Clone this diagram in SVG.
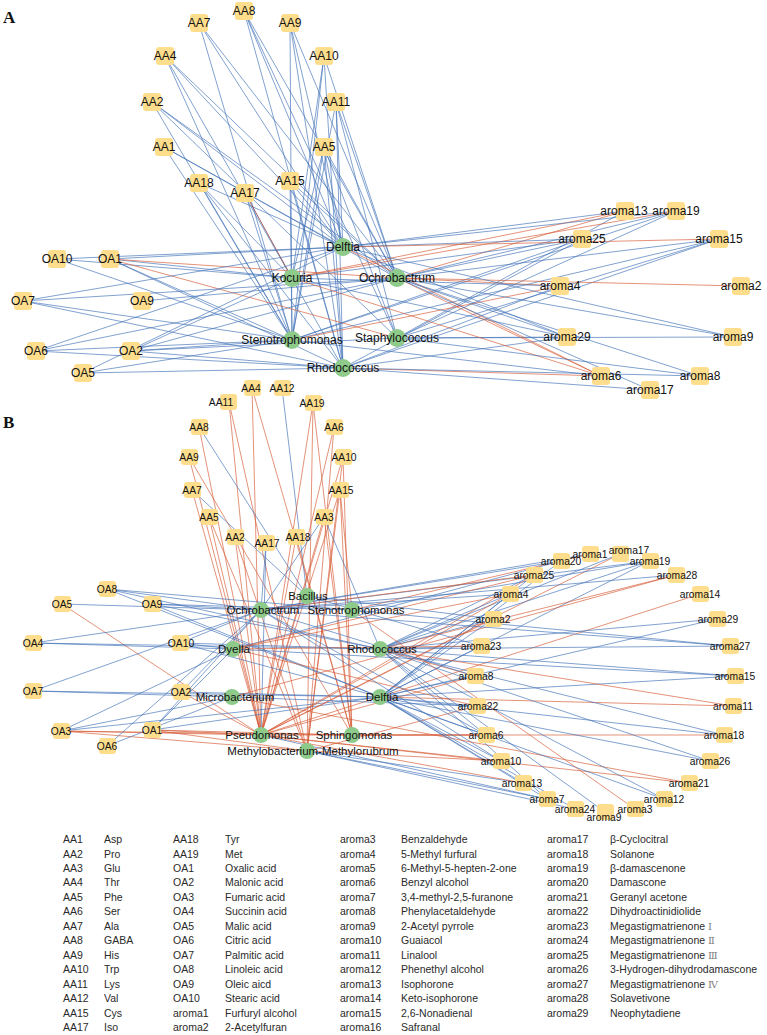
<svg xmlns="http://www.w3.org/2000/svg" width="767" height="1035" viewBox="0 0 767 1035">
<style>
.b{stroke:#4272b8;stroke-width:0.75;fill:none;opacity:.88}
.r{stroke:#d65a33;stroke-width:0.75;fill:none;opacity:.88}
.dr{stroke:#8a3b3b;stroke-width:0.8;fill:none}
.bx{fill:#fede8c}
.mc{fill:#8ecb8a}
text{font-family:"Liberation Sans",Arial,sans-serif;fill:#111;text-anchor:middle}
.ta{font-size:12px}
.tb{font-size:10.3px}
.tm{font-size:11.5px}
.pl{font-family:"Liberation Serif","Times New Roman",serif;font-weight:bold;font-size:17px;text-anchor:start}
.lg text{font-size:10.5px;fill:#2a2a2a;text-anchor:start}
.rn{font-family:"DejaVu Serif","Noto Sans CJK SC",serif;fill:#808080;font-size:10px}
</style>
<rect width="767" height="1035" fill="#fff"/>
<text class="pl" x="3" y="23">A</text>
<text class="pl" x="3" y="428">B</text>

<g id="connectors">
<g id="edges-A">
<path class="b" d="M199 23L292 340"/><path class="b" d="M199 23L343 247"/><path class="b" d="M199 23L397 278"/>
<path class="b" d="M244 11L343 247"/><path class="b" d="M244 11L397 278"/><path class="b" d="M244 11L343 368"/><path class="b" d="M244 11L397 338"/>
<path class="b" d="M290 23L292 340"/><path class="b" d="M290 23L397 278"/><path class="b" d="M290 23L343 247"/><path class="b" d="M290 23L343 368"/>
<path class="b" d="M165 56L397 278"/><path class="b" d="M165 56L343 247"/><path class="b" d="M165 56L292 340"/><path class="b" d="M165 56L343 368"/>
<path class="b" d="M324 56L292 278"/><path class="b" d="M324 56L292 340"/><path class="b" d="M324 56L397 278"/><path class="b" d="M324 56L343 368"/>
<path class="b" d="M152 102L397 278"/><path class="b" d="M152 102L343 247"/><path class="b" d="M152 102L292 340"/><path class="b" d="M152 102L397 338"/>
<path class="b" d="M336 102L397 278"/><path class="b" d="M336 102L343 247"/><path class="b" d="M336 102L397 338"/><path class="b" d="M336 102L343 368"/><path class="b" d="M336 102L292 340"/>
<path class="b" d="M164 147L343 247"/><path class="b" d="M164 147L292 340"/><path class="b" d="M164 147L397 278"/>
<path class="b" d="M324 147L292 278"/><path class="b" d="M324 147L292 340"/><path class="b" d="M324 147L343 368"/><path class="b" d="M324 147L343 247"/><path class="b" d="M324 147L397 278"/><path class="b" d="M324 147L397 338"/>
<path class="b" d="M199 183L292 340"/><path class="b" d="M199 183L343 368"/><path class="b" d="M199 183L292 278"/><path class="b" d="M199 183L343 247"/>
<path class="b" d="M290 181L292 340"/><path class="b" d="M290 181L343 247"/><path class="b" d="M290 181L397 278"/><path class="b" d="M290 181L343 368"/>
<path class="b" d="M245 193L292 340"/><path class="dr" d="M245 193L292 278"/>
<path class="b" d="M57 259L343 247"/><path class="b" d="M57 259L292 278"/><path class="b" d="M57 259L292 340"/>
<path class="b" d="M110 259L343 247"/><path class="b" d="M110 259L292 278"/><path class="b" d="M110 259L292 340"/><path class="b" d="M110 259L343 368"/>
<path class="r" d="M110 259L397 278"/><path class="r" d="M110 259L397 338"/>
<path class="b" d="M23 301L343 247"/><path class="b" d="M23 301L397 278"/><path class="b" d="M23 301L292 340"/><path class="b" d="M23 301L343 368"/>
<path class="b" d="M142 301L397 278"/>
<path class="b" d="M36 351L343 247"/><path class="b" d="M36 351L292 340"/><path class="b" d="M36 351L343 368"/><path class="b" d="M36 351L397 278"/>
<path class="b" d="M131 351L397 278"/><path class="b" d="M131 351L292 278"/><path class="b" d="M131 351L292 340"/><path class="b" d="M131 351L343 368"/><path class="b" d="M131 351L397 338"/>
<path class="b" d="M83 373L343 247"/><path class="b" d="M83 373L292 340"/><path class="b" d="M83 373L343 368"/>
<path class="r" d="M625 211L292 278"/><path class="r" d="M625 211L397 278"/><path class="b" d="M625 211L343 247"/><path class="b" d="M625 211L397 338"/>
<path class="b" d="M676 211L343 247"/><path class="b" d="M676 211L397 278"/><path class="b" d="M676 211L292 340"/><path class="b" d="M676 211L397 338"/><path class="r" d="M676 211L292 278"/>
<path class="b" d="M582 239L343 247"/><path class="b" d="M582 239L292 278"/><path class="b" d="M582 239L397 278"/><path class="b" d="M582 239L292 340"/><path class="b" d="M582 239L343 368"/>
<path class="r" d="M719 239L343 247"/><path class="b" d="M719 239L397 278"/><path class="b" d="M719 239L397 338"/><path class="b" d="M719 239L343 368"/><path class="b" d="M719 239L292 340"/>
<path class="r" d="M560 286L397 278"/><path class="r" d="M560 286L292 340"/><path class="b" d="M560 286L343 368"/><path class="b" d="M560 286L292 278"/>
<path class="r" d="M741 286L397 278"/>
<path class="b" d="M567 337L397 338"/><path class="b" d="M567 337L343 247"/><path class="b" d="M567 337L397 278"/><path class="b" d="M567 337L292 278"/><path class="b" d="M567 337L343 368"/>
<path class="b" d="M733 337L343 247"/><path class="b" d="M733 337L397 278"/><path class="b" d="M733 337L397 338"/>
<path class="r" d="M601 376L397 278"/><path class="r" d="M601 376L343 247"/><path class="r" d="M601 376L292 278"/><path class="r" d="M601 376L343 368"/><path class="b" d="M601 376L292 340"/>
<path class="b" d="M700 376L397 278"/><path class="b" d="M700 376L343 368"/><path class="b" d="M700 376L397 338"/>
<path class="b" d="M650 390L397 278"/><path class="b" d="M650 390L343 368"/>
</g>
<g id="edges-B">
<path class="r" d="M252 388L261 735"/><path class="r" d="M252 388L352 735"/>
<path class="b" d="M282 388L307 596"/>
<path class="r" d="M229 402L261 735"/><path class="r" d="M229 402L307 751"/>
<path class="r" d="M313 403L261 735"/><path class="r" d="M313 403L307 751"/><path class="r" d="M313 403L352 735"/>
<path class="r" d="M199 427L261 735"/><path class="b" d="M199 427L307 596"/>
<path class="r" d="M334 427L261 735"/><path class="r" d="M334 427L307 751"/>
<path class="r" d="M189 457L261 735"/><path class="r" d="M189 457L352 735"/>
<path class="r" d="M343 457L261 735"/><path class="r" d="M343 457L352 735"/><path class="r" d="M343 457L307 751"/>
<path class="b" d="M192 490L307 596"/><path class="r" d="M192 490L261 735"/>
<path class="r" d="M340 490L261 735"/><path class="r" d="M340 490L352 735"/><path class="r" d="M340 490L352 610"/><path class="r" d="M340 490L307 751"/>
<path class="r" d="M209 517L261 735"/><path class="r" d="M209 517L307 751"/>
<path class="b" d="M324 517L261 610"/><path class="b" d="M324 517L380 649"/><path class="r" d="M324 517L261 735"/><path class="r" d="M324 517L352 735"/>
<path class="r" d="M235 537L261 735"/><path class="r" d="M235 537L307 751"/>
<path class="r" d="M296 537L261 735"/><path class="r" d="M296 537L352 735"/>
<path class="b" d="M266 543L261 735"/><path class="b" d="M266 543L261 610"/>
<path class="b" d="M107 589L261 610"/><path class="b" d="M107 589L352 610"/><path class="b" d="M107 589L380 649"/><path class="b" d="M107 589L380 697"/>
<path class="b" d="M62 604L261 610"/><path class="r" d="M62 604L261 735"/>
<path class="b" d="M152 604L380 649"/><path class="b" d="M152 604L380 697"/><path class="b" d="M152 604L352 610"/><path class="b" d="M152 604L261 610"/>
<path class="b" d="M33 643L233 649"/><path class="b" d="M33 643L380 649"/><path class="b" d="M33 643L261 610"/>
<path class="b" d="M180 643L380 649"/><path class="b" d="M180 643L380 697"/><path class="b" d="M180 643L261 610"/><path class="b" d="M180 643L233 649"/>
<path class="b" d="M33 691L261 610"/><path class="b" d="M33 691L232 697"/><path class="b" d="M33 691L380 697"/>
<path class="b" d="M181 692L261 610"/><path class="b" d="M181 692L380 697"/><path class="r" d="M181 692L261 735"/>
<path class="b" d="M61 731L233 649"/><path class="b" d="M61 731L232 697"/><path class="b" d="M61 731L380 697"/><path class="r" d="M61 731L261 735"/><path class="r" d="M61 731L352 735"/><path class="r" d="M61 731L307 751"/>
<path class="b" d="M152 730L261 610"/><path class="b" d="M152 730L233 649"/><path class="b" d="M152 730L380 697"/><path class="r" d="M152 730L261 735"/><path class="r" d="M152 730L352 735"/><path class="r" d="M152 730L307 751"/>
<path class="b" d="M107 746L261 610"/><path class="b" d="M107 746L232 697"/>
<path class="b" d="M590 554L261 610"/><path class="r" d="M590 554L352 610"/>
<path class="r" d="M620 554L261 735"/><path class="b" d="M620 554L380 649"/>
<path class="b" d="M561 561L261 610"/><path class="b" d="M561 561L233 649"/><path class="b" d="M561 561L380 697"/>
<path class="b" d="M650 561L261 610"/><path class="b" d="M650 561L352 610"/><path class="b" d="M650 561L380 697"/><path class="b" d="M650 561L380 649"/>
<path class="r" d="M534 575L261 610"/><path class="r" d="M534 575L261 735"/><path class="r" d="M534 575L233 649"/><path class="b" d="M534 575L380 649"/><path class="b" d="M534 575L380 697"/>
<path class="r" d="M676 575L232 697"/><path class="b" d="M676 575L261 610"/><path class="r" d="M676 575L380 649"/>
<path class="r" d="M510 594L233 649"/><path class="b" d="M510 594L261 610"/><path class="b" d="M510 594L380 697"/><path class="b" d="M510 594L380 649"/><path class="r" d="M510 594L261 735"/>
<path class="r" d="M700 594L261 735"/>
<path class="b" d="M493 619L380 649"/><path class="b" d="M493 619L380 697"/><path class="b" d="M493 619L307 596"/><path class="r" d="M493 619L261 735"/>
<path class="b" d="M717 619L380 697"/><path class="b" d="M717 619L380 649"/>
<path class="b" d="M481 646L380 649"/><path class="r" d="M481 646L233 649"/><path class="b" d="M481 646L307 596"/><path class="b" d="M481 646L380 697"/>
<path class="b" d="M730 646L352 610"/><path class="b" d="M730 646L261 610"/><path class="b" d="M730 646L380 649"/>
<path class="r" d="M475 676L380 649"/><path class="b" d="M475 676L380 697"/><path class="b" d="M475 676L261 610"/><path class="r" d="M475 676L261 735"/>
<path class="b" d="M735 676L380 697"/><path class="b" d="M735 676L380 649"/><path class="b" d="M735 676L233 649"/>
<path class="b" d="M477 706L380 697"/><path class="b" d="M477 706L232 697"/><path class="r" d="M477 706L233 649"/><path class="r" d="M477 706L307 751"/>
<path class="r" d="M733 706L380 649"/><path class="r" d="M733 706L380 697"/>
<path class="b" d="M486 735L380 697"/><path class="b" d="M486 735L380 649"/><path class="r" d="M486 735L352 735"/><path class="r" d="M486 735L261 735"/><path class="b" d="M486 735L261 610"/>
<path class="r" d="M724 735L352 735"/><path class="b" d="M724 735L380 697"/><path class="b" d="M724 735L380 649"/>
<path class="b" d="M501 761L380 697"/><path class="r" d="M501 761L307 751"/><path class="r" d="M501 761L261 735"/><path class="b" d="M501 761L261 610"/>
<path class="b" d="M710 761L380 649"/><path class="b" d="M710 761L380 697"/>
<path class="b" d="M523 783L307 751"/><path class="r" d="M523 783L261 735"/><path class="b" d="M523 783L380 697"/>
<path class="r" d="M689 783L232 697"/><path class="r" d="M689 783L261 735"/>
<path class="b" d="M547 799L307 751"/><path class="b" d="M547 799L261 735"/><path class="b" d="M547 799L380 697"/><path class="b" d="M547 799L380 649"/>
<path class="b" d="M664 799L380 697"/><path class="b" d="M664 799L380 649"/>
<path class="b" d="M575 809L307 751"/><path class="b" d="M575 809L380 697"/>
<path class="r" d="M635 809L352 610"/>
<path class="b" d="M605 812L380 649"/>
</g>
</g>

<g id="nodes-A">
<g id="A-Delftia"><circle class="mc" cx="343" cy="247" r="9"/><text class="ta" x="343" y="251">Delftia</text></g>
<g id="A-Kocuria"><circle class="mc" cx="292" cy="278" r="9"/><text class="ta" x="292" y="282">Kocuria</text></g>
<g id="A-Ochrobactrum"><circle class="mc" cx="397" cy="278" r="9"/><text class="ta" x="397" y="282">Ochrobactrum</text></g>
<g id="A-Stenotrophomonas"><circle class="mc" cx="292" cy="340" r="9"/><text class="ta" x="292" y="344">Stenotrophomonas</text></g>
<g id="A-Staphylococcus"><circle class="mc" cx="397" cy="338" r="9"/><text class="ta" x="397" y="342">Staphylococcus</text></g>
<g id="A-Rhodococcus"><circle class="mc" cx="343" cy="368" r="9"/><text class="ta" x="343" y="372">Rhodococcus</text></g>
<g id="A-AA7"><rect class="bx" x="190" y="14" width="18" height="18" rx="3"/><text class="ta" x="199" y="27">AA7</text></g>
<g id="A-AA8"><rect class="bx" x="235" y="2" width="18" height="18" rx="3"/><text class="ta" x="244" y="15">AA8</text></g>
<g id="A-AA9"><rect class="bx" x="281" y="14" width="18" height="18" rx="3"/><text class="ta" x="290" y="27">AA9</text></g>
<g id="A-AA4"><rect class="bx" x="156" y="47" width="18" height="18" rx="3"/><text class="ta" x="165" y="60">AA4</text></g>
<g id="A-AA10"><rect class="bx" x="315" y="47" width="18" height="18" rx="3"/><text class="ta" x="324" y="60">AA10</text></g>
<g id="A-AA2"><rect class="bx" x="143" y="93" width="18" height="18" rx="3"/><text class="ta" x="152" y="106">AA2</text></g>
<g id="A-AA11"><rect class="bx" x="327" y="93" width="18" height="18" rx="3"/><text class="ta" x="336" y="106">AA11</text></g>
<g id="A-AA1"><rect class="bx" x="155" y="138" width="18" height="18" rx="3"/><text class="ta" x="164" y="151">AA1</text></g>
<g id="A-AA5"><rect class="bx" x="315" y="138" width="18" height="18" rx="3"/><text class="ta" x="324" y="151">AA5</text></g>
<g id="A-AA18"><rect class="bx" x="190" y="174" width="18" height="18" rx="3"/><text class="ta" x="199" y="187">AA18</text></g>
<g id="A-AA15"><rect class="bx" x="281" y="172" width="18" height="18" rx="3"/><text class="ta" x="290" y="185">AA15</text></g>
<g id="A-AA17"><rect class="bx" x="236" y="184" width="18" height="18" rx="3"/><text class="ta" x="245" y="197">AA17</text></g>
<g id="A-OA10"><rect class="bx" x="48" y="250" width="18" height="18" rx="3"/><text class="ta" x="57" y="263">OA10</text></g>
<g id="A-OA1"><rect class="bx" x="101" y="250" width="18" height="18" rx="3"/><text class="ta" x="110" y="263">OA1</text></g>
<g id="A-OA7"><rect class="bx" x="14" y="292" width="18" height="18" rx="3"/><text class="ta" x="23" y="305">OA7</text></g>
<g id="A-OA9"><rect class="bx" x="133" y="292" width="18" height="18" rx="3"/><text class="ta" x="142" y="305">OA9</text></g>
<g id="A-OA6"><rect class="bx" x="27" y="342" width="18" height="18" rx="3"/><text class="ta" x="36" y="355">OA6</text></g>
<g id="A-OA2"><rect class="bx" x="122" y="342" width="18" height="18" rx="3"/><text class="ta" x="131" y="355">OA2</text></g>
<g id="A-OA5"><rect class="bx" x="74" y="364" width="18" height="18" rx="3"/><text class="ta" x="83" y="377">OA5</text></g>
<g id="A-aroma13"><rect class="bx" x="616" y="202" width="18" height="18" rx="3"/><text class="ta" x="624" y="215">aroma13</text></g>
<g id="A-aroma19"><rect class="bx" x="667" y="202" width="18" height="18" rx="3"/><text class="ta" x="676" y="215">aroma19</text></g>
<g id="A-aroma25"><rect class="bx" x="573" y="230" width="18" height="18" rx="3"/><text class="ta" x="582" y="243">aroma25</text></g>
<g id="A-aroma15"><rect class="bx" x="710" y="230" width="18" height="18" rx="3"/><text class="ta" x="719" y="243">aroma15</text></g>
<g id="A-aroma4"><rect class="bx" x="551" y="277" width="18" height="18" rx="3"/><text class="ta" x="560" y="290">aroma4</text></g>
<g id="A-aroma2"><rect class="bx" x="732" y="277" width="18" height="18" rx="3"/><text class="ta" x="741" y="290">aroma2</text></g>
<g id="A-aroma29"><rect class="bx" x="558" y="328" width="18" height="18" rx="3"/><text class="ta" x="567" y="341">aroma29</text></g>
<g id="A-aroma9"><rect class="bx" x="724" y="328" width="18" height="18" rx="3"/><text class="ta" x="733" y="341">aroma9</text></g>
<g id="A-aroma6"><rect class="bx" x="592" y="367" width="18" height="18" rx="3"/><text class="ta" x="601" y="380">aroma6</text></g>
<g id="A-aroma8"><rect class="bx" x="691" y="367" width="18" height="18" rx="3"/><text class="ta" x="700" y="380">aroma8</text></g>
<g id="A-aroma17"><rect class="bx" x="641" y="381" width="18" height="18" rx="3"/><text class="ta" x="650" y="394">aroma17</text></g>
</g>

<g id="nodes-B">
<g id="B-Bacillus"><circle class="mc" cx="307" cy="596" r="8"/><text class="tm" x="308" y="600">Bacillus</text></g>
<g id="B-Ochrobactrum"><circle class="mc" cx="261" cy="610" r="8"/><text class="tm" x="263" y="614">Ochrobactrum</text></g>
<g id="B-Stenotrophomonas"><circle class="mc" cx="352" cy="610" r="8"/><text class="tm" x="356" y="614">Stenotrophomonas</text></g>
<g id="B-Dyella"><circle class="mc" cx="233" cy="649" r="8"/><text class="tm" x="234" y="653">Dyella</text></g>
<g id="B-Rhodococcus"><circle class="mc" cx="380" cy="649" r="8"/><text class="tm" x="382" y="653">Rhodococcus</text></g>
<g id="B-Microbacterium"><circle class="mc" cx="232" cy="697" r="8"/><text class="tm" x="235" y="701">Microbacterium</text></g>
<g id="B-Delftia"><circle class="mc" cx="380" cy="697" r="8"/><text class="tm" x="382" y="701">Delftia</text></g>
<g id="B-Pseudomonas"><circle class="mc" cx="261" cy="735" r="8"/><text class="tm" x="262" y="739">Pseudomonas</text></g>
<g id="B-Sphingomonas"><circle class="mc" cx="352" cy="735" r="8"/><text class="tm" x="354" y="739">Sphingomonas</text></g>
<g id="B-Methylobacterium"><circle class="mc" cx="307" cy="751" r="8"/><text class="tm" x="313" y="755">Methylobacterium-Methylorubrum</text></g>
<g id="B-AA4"><rect class="bx" x="244" y="380" width="17" height="16" rx="3"/><text class="tb" x="251" y="392">AA4</text></g>
<g id="B-AA12"><rect class="bx" x="274" y="380" width="17" height="16" rx="3"/><text class="tb" x="282" y="392">AA12</text></g>
<g id="B-AA11"><rect class="bx" x="220" y="394" width="17" height="16" rx="3"/><text class="tb" x="221" y="406">AA11</text></g>
<g id="B-AA19"><rect class="bx" x="305" y="395" width="17" height="16" rx="3"/><text class="tb" x="312" y="407">AA19</text></g>
<g id="B-AA8"><rect class="bx" x="191" y="419" width="17" height="16" rx="3"/><text class="tb" x="199" y="431">AA8</text></g>
<g id="B-AA6"><rect class="bx" x="326" y="419" width="17" height="16" rx="3"/><text class="tb" x="334" y="431">AA6</text></g>
<g id="B-AA9"><rect class="bx" x="181" y="449" width="17" height="16" rx="3"/><text class="tb" x="189" y="461">AA9</text></g>
<g id="B-AA10"><rect class="bx" x="335" y="449" width="17" height="16" rx="3"/><text class="tb" x="344" y="461">AA10</text></g>
<g id="B-AA7"><rect class="bx" x="184" y="482" width="17" height="16" rx="3"/><text class="tb" x="192" y="494">AA7</text></g>
<g id="B-AA15"><rect class="bx" x="332" y="482" width="17" height="16" rx="3"/><text class="tb" x="341" y="494">AA15</text></g>
<g id="B-AA5"><rect class="bx" x="201" y="509" width="17" height="16" rx="3"/><text class="tb" x="209" y="521">AA5</text></g>
<g id="B-AA3"><rect class="bx" x="316" y="509" width="17" height="16" rx="3"/><text class="tb" x="324" y="521">AA3</text></g>
<g id="B-AA2"><rect class="bx" x="227" y="529" width="17" height="16" rx="3"/><text class="tb" x="235" y="541">AA2</text></g>
<g id="B-AA18"><rect class="bx" x="288" y="529" width="17" height="16" rx="3"/><text class="tb" x="298" y="541">AA18</text></g>
<g id="B-AA17"><rect class="bx" x="258" y="535" width="17" height="16" rx="3"/><text class="tb" x="267" y="547">AA17</text></g>
<g id="B-OA8"><rect class="bx" x="99" y="581" width="17" height="16" rx="3"/><text class="tb" x="107" y="593">OA8</text></g>
<g id="B-OA5"><rect class="bx" x="54" y="596" width="17" height="16" rx="3"/><text class="tb" x="62" y="608">OA5</text></g>
<g id="B-OA9"><rect class="bx" x="144" y="596" width="17" height="16" rx="3"/><text class="tb" x="152" y="608">OA9</text></g>
<g id="B-OA4"><rect class="bx" x="25" y="635" width="17" height="16" rx="3"/><text class="tb" x="33" y="647">OA4</text></g>
<g id="B-OA10"><rect class="bx" x="172" y="635" width="17" height="16" rx="3"/><text class="tb" x="181" y="647">OA10</text></g>
<g id="B-OA7"><rect class="bx" x="25" y="683" width="17" height="16" rx="3"/><text class="tb" x="33" y="695">OA7</text></g>
<g id="B-OA2"><rect class="bx" x="173" y="684" width="17" height="16" rx="3"/><text class="tb" x="181" y="696">OA2</text></g>
<g id="B-OA3"><rect class="bx" x="53" y="723" width="17" height="16" rx="3"/><text class="tb" x="61" y="735">OA3</text></g>
<g id="B-OA1"><rect class="bx" x="144" y="722" width="17" height="16" rx="3"/><text class="tb" x="152" y="734">OA1</text></g>
<g id="B-OA6"><rect class="bx" x="99" y="738" width="17" height="16" rx="3"/><text class="tb" x="107" y="750">OA6</text></g>
<g id="B-aroma1"><rect class="bx" x="582" y="546" width="17" height="16" rx="3"/><text class="tb" x="590" y="558">aroma1</text></g>
<g id="B-aroma17"><rect class="bx" x="612" y="546" width="17" height="16" rx="3"/><text class="tb" x="629" y="554">aroma17</text></g>
<g id="B-aroma20"><rect class="bx" x="553" y="553" width="17" height="16" rx="3"/><text class="tb" x="561" y="565">aroma20</text></g>
<g id="B-aroma19"><rect class="bx" x="642" y="553" width="17" height="16" rx="3"/><text class="tb" x="650" y="565">aroma19</text></g>
<g id="B-aroma25"><rect class="bx" x="526" y="567" width="17" height="16" rx="3"/><text class="tb" x="534" y="579">aroma25</text></g>
<g id="B-aroma28"><rect class="bx" x="668" y="567" width="17" height="16" rx="3"/><text class="tb" x="677" y="579">aroma28</text></g>
<g id="B-aroma4"><rect class="bx" x="502" y="586" width="17" height="16" rx="3"/><text class="tb" x="511" y="598">aroma4</text></g>
<g id="B-aroma14"><rect class="bx" x="692" y="586" width="17" height="16" rx="3"/><text class="tb" x="700" y="598">aroma14</text></g>
<g id="B-aroma2"><rect class="bx" x="485" y="611" width="17" height="16" rx="3"/><text class="tb" x="493" y="623">aroma2</text></g>
<g id="B-aroma29"><rect class="bx" x="709" y="611" width="17" height="16" rx="3"/><text class="tb" x="718" y="623">aroma29</text></g>
<g id="B-aroma23"><rect class="bx" x="473" y="638" width="17" height="16" rx="3"/><text class="tb" x="481" y="650">aroma23</text></g>
<g id="B-aroma27"><rect class="bx" x="722" y="638" width="17" height="16" rx="3"/><text class="tb" x="730" y="650">aroma27</text></g>
<g id="B-aroma8"><rect class="bx" x="467" y="668" width="17" height="16" rx="3"/><text class="tb" x="476" y="680">aroma8</text></g>
<g id="B-aroma15"><rect class="bx" x="727" y="668" width="17" height="16" rx="3"/><text class="tb" x="735" y="680">aroma15</text></g>
<g id="B-aroma22"><rect class="bx" x="469" y="698" width="17" height="16" rx="3"/><text class="tb" x="478" y="710">aroma22</text></g>
<g id="B-aroma11"><rect class="bx" x="725" y="698" width="17" height="16" rx="3"/><text class="tb" x="733" y="710">aroma11</text></g>
<g id="B-aroma6"><rect class="bx" x="478" y="727" width="17" height="16" rx="3"/><text class="tb" x="486" y="739">aroma6</text></g>
<g id="B-aroma18"><rect class="bx" x="716" y="727" width="17" height="16" rx="3"/><text class="tb" x="724" y="739">aroma18</text></g>
<g id="B-aroma10"><rect class="bx" x="493" y="753" width="17" height="16" rx="3"/><text class="tb" x="501" y="765">aroma10</text></g>
<g id="B-aroma26"><rect class="bx" x="702" y="753" width="17" height="16" rx="3"/><text class="tb" x="710" y="765">aroma26</text></g>
<g id="B-aroma13"><rect class="bx" x="515" y="775" width="17" height="16" rx="3"/><text class="tb" x="522" y="787">aroma13</text></g>
<g id="B-aroma21"><rect class="bx" x="681" y="775" width="17" height="16" rx="3"/><text class="tb" x="689" y="787">aroma21</text></g>
<g id="B-aroma7"><rect class="bx" x="539" y="791" width="17" height="16" rx="3"/><text class="tb" x="547" y="803">aroma7</text></g>
<g id="B-aroma12"><rect class="bx" x="656" y="791" width="17" height="16" rx="3"/><text class="tb" x="664" y="803">aroma12</text></g>
<g id="B-aroma9"><rect class="bx" x="597" y="804" width="17" height="16" rx="3"/><text class="tb" x="604" y="821">aroma9</text></g>
<g id="B-aroma24"><rect class="bx" x="567" y="801" width="17" height="16" rx="3"/><text class="tb" x="575" y="813">aroma24</text></g>
<g id="B-aroma3"><rect class="bx" x="627" y="801" width="17" height="16" rx="3"/><text class="tb" x="635" y="813">aroma3</text></g>
</g>

<g id="legend" class="lg">
<text x="63" y="843">AA1</text><text x="104" y="843">Asp</text><text x="173" y="843">AA18</text><text x="225" y="843">Tyr</text><text x="340" y="843">aroma3</text><text x="401" y="843">Benzaldehyde</text><text x="547" y="843">aroma17</text><text x="610" y="843">β-Cyclocitral</text>
<text x="63" y="857.5">AA2</text><text x="104" y="857.5">Pro</text><text x="173" y="857.5">AA19</text><text x="225" y="857.5">Met</text><text x="340" y="857.5">aroma4</text><text x="401" y="857.5">5-Methyl furfural</text><text x="547" y="857.5">aroma18</text><text x="610" y="857.5">Solanone</text>
<text x="63" y="872">AA3</text><text x="104" y="872">Glu</text><text x="173" y="872">OA1</text><text x="225" y="872">Oxalic acid</text><text x="340" y="872">aroma5</text><text x="401" y="872">6-Methyl-5-hepten-2-one</text><text x="547" y="872">aroma19</text><text x="610" y="872">β-damascenone</text>
<text x="63" y="886.4">AA4</text><text x="104" y="886.4">Thr</text><text x="173" y="886.4">OA2</text><text x="225" y="886.4">Malonic acid</text><text x="340" y="886.4">aroma6</text><text x="401" y="886.4">Benzyl alcohol</text><text x="547" y="886.4">aroma20</text><text x="610" y="886.4">Damascone</text>
<text x="63" y="900.8">AA5</text><text x="104" y="900.8">Phe</text><text x="173" y="900.8">OA3</text><text x="225" y="900.8">Fumaric acid</text><text x="340" y="900.8">aroma7</text><text x="401" y="900.8">3,4-methyl-2,5-furanone</text><text x="547" y="900.8">aroma21</text><text x="610" y="900.8">Geranyl acetone</text>
<text x="63" y="915.3">AA6</text><text x="104" y="915.3">Ser</text><text x="173" y="915.3">OA4</text><text x="225" y="915.3">Succinin acid</text><text x="340" y="915.3">aroma8</text><text x="401" y="915.3">Phenylacetaldehyde</text><text x="547" y="915.3">aroma22</text><text x="610" y="915.3">Dihydroactinidiolide</text>
<text x="63" y="929.8">AA7</text><text x="104" y="929.8">Ala</text><text x="173" y="929.8">OA5</text><text x="225" y="929.8">Malic acid</text><text x="340" y="929.8">aroma9</text><text x="401" y="929.8">2-Acetyl pyrrole</text><text x="547" y="929.8">aroma23</text><text x="610" y="929.8">Megastigmatrienone <tspan class="rn">Ⅰ</tspan></text>
<text x="63" y="944.2">AA8</text><text x="104" y="944.2">GABA</text><text x="173" y="944.2">OA6</text><text x="225" y="944.2">Citric acid</text><text x="340" y="944.2">aroma10</text><text x="401" y="944.2">Guaiacol</text><text x="547" y="944.2">aroma24</text><text x="610" y="944.2">Megastigmatrienone <tspan class="rn">Ⅱ</tspan></text>
<text x="63" y="958.7">AA9</text><text x="104" y="958.7">His</text><text x="173" y="958.7">OA7</text><text x="225" y="958.7">Palmitic acid</text><text x="340" y="958.7">aroma11</text><text x="401" y="958.7">Linalool</text><text x="547" y="958.7">aroma25</text><text x="610" y="958.7">Megastigmatrienone <tspan class="rn">Ⅲ</tspan></text>
<text x="63" y="973.1">AA10</text><text x="104" y="973.1">Trp</text><text x="173" y="973.1">OA8</text><text x="225" y="973.1">Linoleic acid</text><text x="340" y="973.1">aroma12</text><text x="401" y="973.1">Phenethyl alcohol</text><text x="547" y="973.1">aroma26</text><text x="610" y="973.1">3-Hydrogen-dihydrodamascone</text>
<text x="63" y="987.6">AA11</text><text x="104" y="987.6">Lys</text><text x="173" y="987.6">OA9</text><text x="225" y="987.6">Oleic aicd</text><text x="340" y="987.6">aroma13</text><text x="401" y="987.6">Isophorone</text><text x="547" y="987.6">aroma27</text><text x="610" y="987.6">Megastigmatrienone <tspan class="rn">Ⅳ</tspan></text>
<text x="63" y="1002">AA12</text><text x="104" y="1002">Val</text><text x="173" y="1002">OA10</text><text x="225" y="1002">Stearic acid</text><text x="340" y="1002">aroma14</text><text x="401" y="1002">Keto-isophorone</text><text x="547" y="1002">aroma28</text><text x="610" y="1002">Solavetivone</text>
<text x="63" y="1016.5">AA15</text><text x="104" y="1016.5">Cys</text><text x="173" y="1016.5">aroma1</text><text x="225" y="1016.5">Furfuryl alcohol</text><text x="340" y="1016.5">aroma15</text><text x="401" y="1016.5">2,6-Nonadienal</text><text x="547" y="1016.5">aroma29</text><text x="610" y="1016.5">Neophytadiene</text>
<text x="63" y="1031">AA17</text><text x="104" y="1031">Iso</text><text x="173" y="1031">aroma2</text><text x="225" y="1031">2-Acetylfuran</text><text x="340" y="1031">aroma16</text><text x="401" y="1031">Safranal</text>
</g>
</svg>
